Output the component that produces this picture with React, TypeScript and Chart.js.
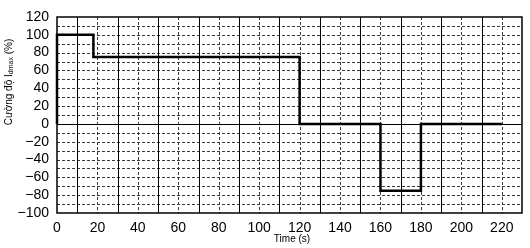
import { useEffect, useRef } from 'react';
import { Chart, registerables } from 'chart.js';

Chart.register(...registerables);

// Data
const timeS = [0, 0, 18, 120, 160, 180, 220];
const intensityPct = [0, 100, 75, 0, -75, 0, 0];

// Ticks / grid values
const xTickValues = [0, 20, 40, 60, 80, 100, 120, 140, 160, 180, 200, 220];
const yTickValues = [-100, -80, -60, -40, -20, 0, 20, 40, 60, 80, 100, 120];
const xSolidGrid = [10, 30, 50, 70, 90, 110, 130, 150, 170, 190, 210];
const xDashedGrid = [20, 40, 60, 80, 100, 120, 140, 160, 180, 200, 220];
const yDashedGrid = [-90, -80, -70, -60, -50, -40, -30, -20, -10, 10, 20, 30, 40, 50, 60, 70, 80, 90, 100, 110];
const ySolidGrid = [0];

const xTitle = 'Time (s)';
const yTitleParts = [
  { text: 'Cường độ I', sub: false },
  { text: 'dmax', sub: true },
  { text: ' (%)', sub: false },
];

const tickFont = "'Liberation Sans Narrow', 'Liberation Sans', Arial, sans-serif";
const titleFont = "'Liberation Sans', Arial, sans-serif";

const gridPlugin = {
  id: 'customGrid',
  beforeDatasetsDraw(chart: any) {
    const { ctx, chartArea, scales } = chart;
    const { left, right, top, bottom } = chartArea;
    const x = scales.x;
    const y = scales.y;
    ctx.save();
    ctx.lineWidth = 1;
    ctx.strokeStyle = '#3a3a3a';
    ctx.setLineDash([3, 2]);
    for (const v of yDashedGrid) {
      const py = Math.round(y.getPixelForValue(v)) + 0.5;
      ctx.beginPath();
      ctx.moveTo(left, py);
      ctx.lineTo(right, py);
      ctx.stroke();
    }
    for (const v of xDashedGrid) {
      const px = Math.round(x.getPixelForValue(v)) + 0.5;
      ctx.beginPath();
      ctx.moveTo(px, top);
      ctx.lineTo(px, bottom);
      ctx.stroke();
    }
    ctx.setLineDash([]);
    ctx.strokeStyle = '#000';
    for (const v of xSolidGrid) {
      const px = Math.round(x.getPixelForValue(v)) + 0.5;
      ctx.beginPath();
      ctx.moveTo(px, top);
      ctx.lineTo(px, bottom);
      ctx.stroke();
    }
    for (const v of ySolidGrid) {
      const py = Math.round(y.getPixelForValue(v)) + 0.5;
      ctx.beginPath();
      ctx.moveTo(left, py);
      ctx.lineTo(right, py);
      ctx.stroke();
    }
    ctx.lineWidth = 1.5;
    ctx.strokeRect(left, top, right - left, bottom - top);
    ctx.restore();
  },
  afterDraw(chart: any) {
    const { ctx } = chart;
    ctx.save();
    ctx.fillStyle = '#000';
    ctx.font = `10px ${titleFont}`;
    ctx.textAlign = 'center';
    ctx.textBaseline = 'middle';
    ctx.fillText(xTitle, 292, 239);
    const mainFont = `10px ${titleFont}`;
    const subFont = `7px ${titleFont}`;
    let total = 0;
    for (const p of yTitleParts) {
      ctx.font = p.sub ? subFont : mainFont;
      total += ctx.measureText(p.text).width;
    }
    ctx.translate(9, 82);
    ctx.rotate(-Math.PI / 2);
    ctx.textAlign = 'left';
    let cx = -total / 2;
    for (const p of yTitleParts) {
      ctx.font = p.sub ? subFont : mainFont;
      ctx.fillText(p.text, cx, p.sub ? 2.5 : 0);
      cx += ctx.measureText(p.text).width;
    }
    ctx.restore();
  },
};

export default function App() {
  const canvasRef = useRef<HTMLCanvasElement | null>(null);

  useEffect(() => {
    if (!canvasRef.current) return;
    const chart = new Chart(canvasRef.current, {
      type: 'line',
      data: {
        datasets: [
          {
            data: timeS.map((t, i) => ({ x: t, y: intensityPct[i] })),
            borderColor: '#000',
            borderWidth: 2.5,
            pointRadius: 0,
            stepped: 'before',
            fill: false,
            clip: 6,
          } as any,
        ],
      },
      options: {
        animation: false,
        responsive: false,
        devicePixelRatio: 1,
        layout: { padding: { left: 0, top: 17, right: 8, bottom: 0 } },
        plugins: {
          legend: { display: false },
          tooltip: { enabled: false },
        },
        scales: {
          x: {
            type: 'linear',
            min: 0,
            max: 230,
            afterBuildTicks: (scale: any) => {
              scale.ticks = xTickValues.map((v) => ({ value: v }));
            },
            afterFit: (scale: any) => {
              scale.height = 35;
            },
            grid: { display: false, drawTicks: false },
            border: { display: false },
            ticks: {
              autoSkip: false,
              maxRotation: 0,
              padding: 7,
              color: '#000',
              font: { family: tickFont, size: 14 },
              callback: (v: any) => String(v),
            },
          },
          y: {
            type: 'linear',
            min: -100,
            max: 120,
            afterBuildTicks: (scale: any) => {
              scale.ticks = yTickValues.map((v) => ({ value: v }));
            },
            afterFit: (scale: any) => {
              scale.width = 57;
            },
            grid: { display: false, drawTicks: false },
            border: { display: false },
            ticks: {
              autoSkip: false,
              padding: 8,
              color: '#000',
              font: { family: tickFont, size: 14 },
              callback: (v: any) => (Number(v) < 0 ? '\u2212' + Math.abs(Number(v)) : String(v)),
            },
          },
        },
      },
      plugins: [gridPlugin],
    });
    return () => chart.destroy();
  }, []);

  return (
    <div style={{ position: 'absolute', left: 0, top: 0, width: 530, height: 248, background: '#fff' }}>
      <canvas ref={canvasRef} width={530} height={248} />
    </div>
  );
}
